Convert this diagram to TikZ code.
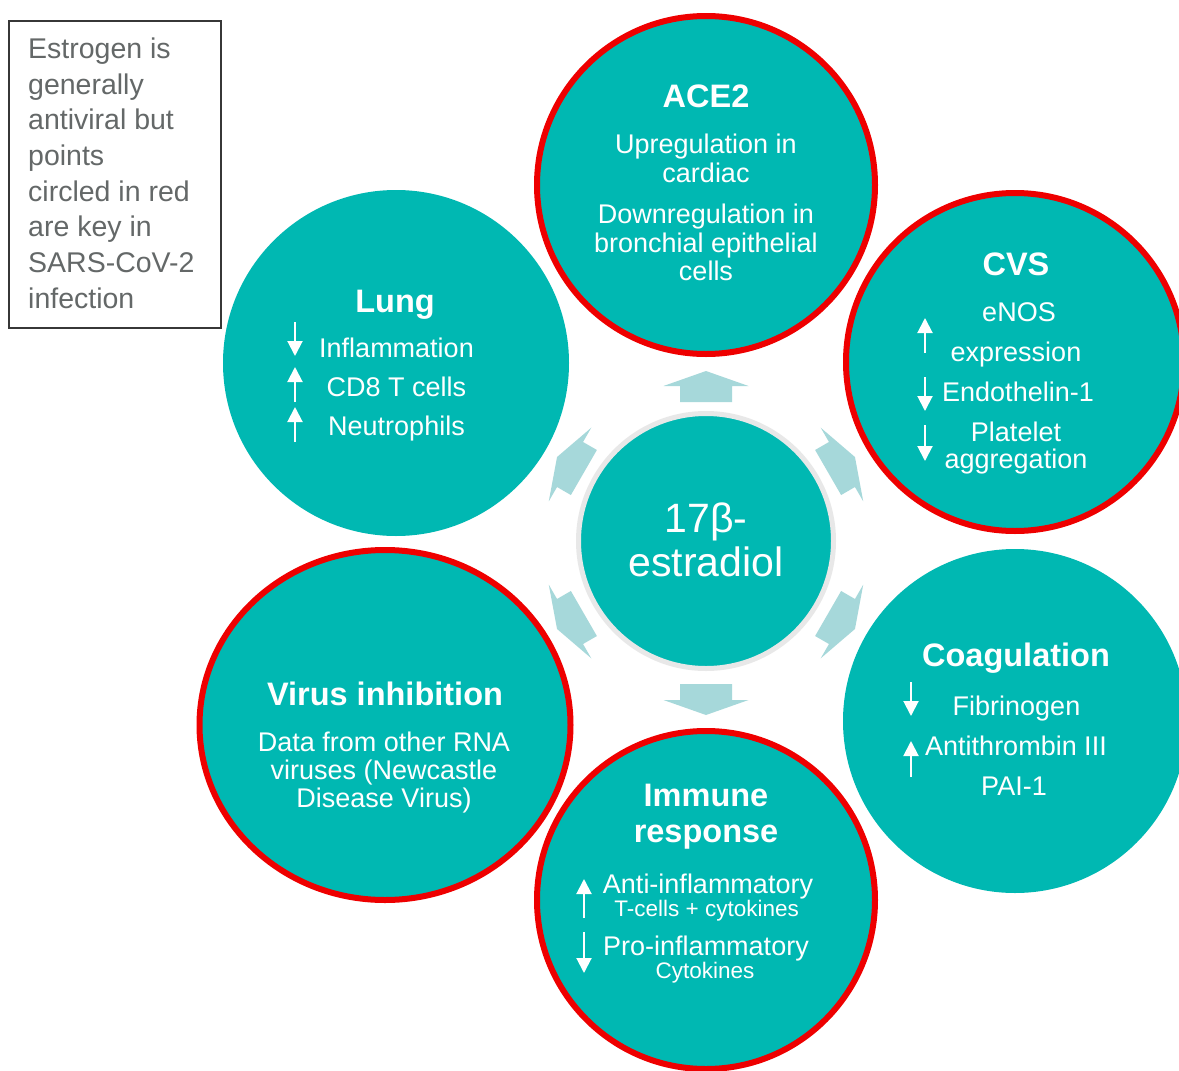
\documentclass[tikz,border=0pt]{standalone}
\usepackage{fontspec}
\setmainfont{Liberation Sans}
\usetikzlibrary{arrows.meta,shapes.geometric}
\definecolor{tealc}{RGB}{0,184,178}
\definecolor{arrowc}{RGB}{166,216,218}
\definecolor{redc}{RGB}{238,0,0}
\definecolor{boxtext}{RGB}{100,104,104}
\definecolor{boxline}{RGB}{55,55,55}
\definecolor{ringc}{RGB}{232,232,232}
\begin{document}
\begin{tikzpicture}[x=1pt,y=-1pt,
  bubble/.style={circle, fill=tealc, inner sep=0pt, minimum size=#1},
  keyring/.style={draw=redc, line width=6pt},
  ttl/.style={text=white, font=\bfseries\fontsize{32.5}{33}\selectfont, anchor=base, inner sep=0pt},
  txt/.style={text=white, font=\fontsize{27}{28}\selectfont, anchor=base, inner sep=0pt},
  sml/.style={text=white, font=\fontsize{22.5}{24}\selectfont, anchor=base, inner sep=0pt},
  boxtxt/.style={text=boxtext, font=\fontsize{28.5}{30}\selectfont, anchor=base west, inner sep=0pt},
  updown/.style={draw=white, line width=2pt, -{Triangle[width=15pt,length=15pt]}},
  blockarrow/.style={fill=arrowc}
]
\useasboundingbox (0,0) rectangle (1179,1071);
\clip (0,0) rectangle (1179,1071);
\fill[white] (0,0) rectangle (1179,1071);

% outer bubbles
\node[bubble=338pt, keyring] (ace) at (706,185) {};
\node[bubble=338pt, keyring] (cvs) at (1015,362) {};
\node[bubble=344pt] (coag) at (1015,721) {};
\node[bubble=338pt, keyring] (imm) at (706,900) {};
\node[ellipse, fill=tealc, inner sep=0pt, minimum width=371pt, minimum height=350pt, keyring] (vir) at (385,725) {};
\node[bubble=346pt] (lung) at (396,363) {};

% centre
\node[bubble=255pt, draw=ringc, line width=5pt] (cen) at (706,541) {};
\node[text=white, font=\fontsize{41}{42}\selectfont, anchor=base, inner sep=0pt] (c1) at (706,532.7) {17β-};
\node[text=white, font=\fontsize{41}{42}\selectfont, anchor=base, inner sep=0pt] (c2) at (706,576.7) {estradiol};

% block arrows
\foreach \a in {90,30,-30,-90,150,210}{
  \fill[blockarrow, shift={(706,543)}, rotate=\a]
    (141,-26) -- (157,-26) -- (157,-42.5) -- (172,0) -- (157,42.5) -- (157,26) -- (141,26) -- cycle;
}

% note box
\node[draw=boxline, line width=1.5pt, minimum width=212pt, minimum height=307pt, anchor=north west, inner sep=0pt] (box) at (8,20) {};
\node[boxtxt] (b1) at (28,58.3) {Estrogen is};
\node[boxtxt] (b2) at (28,94) {generally};
\node[boxtxt] (b3) at (28,129.7) {antiviral but};
\node[boxtxt] (b4) at (28,165.4) {points};
\node[boxtxt] (b5) at (28,201.1) {circled in red};
\node[boxtxt] (b6) at (28,236.8) {are key in};
\node[boxtxt] (b7) at (28,272.5) {SARS-CoV-2};
\node[boxtxt] (b8) at (28,308.2) {infection};

% ACE2
\node[ttl] (a0) at (706,107.3) {ACE2};
\node[txt] (a1) at (706,153.3) {Upregulation in};
\node[txt] (a2) at (706,182.5) {cardiac};
\node[txt] (a3) at (706,223.3) {Downregulation in};
\node[txt] (a4) at (706,252) {bronchial epithelial};
\node[txt] (a5) at (706,280) {cells};

% Lung
\node[ttl] (l0) at (395,312) {Lung};
\node[txt] (l1) at (396.5,357.5) {Inflammation};
\node[txt] (l2) at (396.5,396.7) {CD8 T cells};
\node[txt] (l3) at (396.5,435.7) {Neutrophils};
\coordinate (la1) at (295,322); \coordinate (lb1) at (295,356);
\coordinate (la2) at (295,402); \coordinate (lb2) at (295,367);
\coordinate (la3) at (295,442); \coordinate (lb3) at (295,407);
\draw[updown] (la1) -- (lb1);
\draw[updown] (la2) -- (lb2);
\draw[updown] (la3) -- (lb3);

% CVS
\node[ttl] (v0) at (1016,275) {CVS};
\node[txt] (v1) at (1019,321.7) {eNOS};
\node[txt] (v2) at (1016,361.7) {expression};
\node[txt] (v3) at (1018,401.7) {Endothelin-1};
\node[txt] (v4) at (1016,441.7) {Platelet};
\node[txt] (v5) at (1016,468.3) {aggregation};
\coordinate (va1) at (925,353); \coordinate (vb1) at (925,318);
\coordinate (va2) at (925,377); \coordinate (vb2) at (925,411);
\coordinate (va3) at (925,425); \coordinate (vb3) at (925,461);
\draw[updown] (va1) -- (vb1);
\draw[updown] (va2) -- (vb2);
\draw[updown] (va3) -- (vb3);

% Coagulation
\node[ttl] (g0) at (1016,666.7) {Coagulation};
\node[txt] (g1) at (1016.5,715) {Fibrinogen};
\node[txt] (g2) at (1016,755) {Antithrombin III};
\node[txt] (g3) at (1014,795) {PAI-1};
\coordinate (ga1) at (911,682); \coordinate (gb1) at (911,716);
\coordinate (ga2) at (911,777); \coordinate (gb2) at (911,741);
\draw[updown] (ga1) -- (gb1);
\draw[updown] (ga2) -- (gb2);

% Immune response
\node[ttl] (i0) at (706,806) {Immune};
\node[ttl] (i1) at (706,842) {response};
\node[txt] (i2) at (708,893.3) {Anti-inflammatory};
\node[sml] (i3) at (706.7,916.7) {T-cells + cytokines};
\node[txt] (i4) at (706,955) {Pro-inflammatory};
\node[sml] (i5) at (705,978.3) {Cytokines};
\coordinate (ia1) at (584,918); \coordinate (ib1) at (584,879);
\coordinate (ia2) at (584,932); \coordinate (ib2) at (584,973);
\draw[updown] (ia1) -- (ib1);
\draw[updown] (ia2) -- (ib2);

% Virus inhibition
\node[ttl] (r0) at (385,705) {Virus inhibition};
\node[txt] (r1) at (384,751.7) {Data from other RNA};
\node[txt] (r2) at (384,779.7) {viruses (Newcastle};
\node[txt] (r3) at (384,807.7) {Disease Virus)};
\end{tikzpicture}
\end{document}
